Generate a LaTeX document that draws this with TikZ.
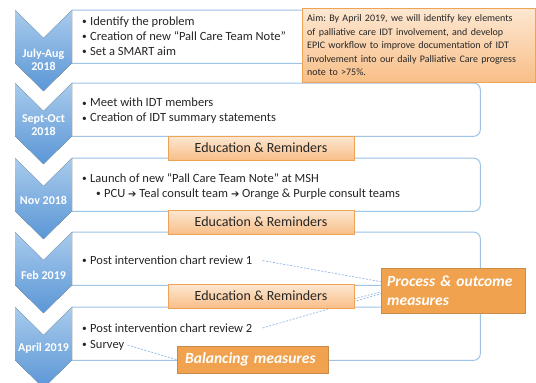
\documentclass[tikz,border=0pt]{standalone}
\usepackage{fontspec}
\setmainfont{Carlito}
\newfontfamily\arrowfont{DejaVu Sans}
\usetikzlibrary{backgrounds}

\definecolor{chevtop}{HTML}{A9CBEC}
\definecolor{chevbot}{HTML}{5A96D6}
\definecolor{boxline}{HTML}{9DC3E6}
\definecolor{edutop}{HTML}{FDE7D2}
\definecolor{edubot}{HTML}{F8BF88}
\definecolor{orangeline}{HTML}{EFA356}
\definecolor{measfill}{HTML}{F0A24E}
\definecolor{dotline}{HTML}{8FB6E2}
\definecolor{textgray}{HTML}{262626}

\frenchspacing
\newcommand{\bul}{\makebox[8pt][l]{\raisebox{0.8pt}{\scalebox{0.75}{\textbullet}}}}
\newcommand{\thenarrow}{{\arrowfont\fontsize{10}{12}\selectfont ➔}}

\tikzset{
  stagebox/.style={minimum width=408pt, minimum height=53pt, inner sep=0pt, anchor=north west},
  stageline/.style={draw=boxline, line width=1pt, rounded corners=7pt},
  chevron/.style={top color=chevtop, bottom color=chevbot, draw=none},
  datelbl/.style={text=white, font=\bfseries\fontsize{12}{13.5}\selectfont, align=center, inner sep=0pt},
  itemtxt/.style={anchor=west, align=left, text=textgray, font=\fontsize{12.5}{15}\selectfont, inner sep=0pt},
  edubox/.style={draw=orangeline, top color=edutop, bottom color=edubot, minimum width=186pt,
    minimum height=24pt, inner sep=0pt, text=textgray, font=\fontsize{14}{16}\selectfont},
  aimbox/.style={draw=orangeline, top color=edutop, bottom color=edubot, anchor=north west,
    text width=223pt, inner xsep=5pt, minimum height=74pt, align=left, text=textgray,
    font=\fontsize{10}{13.5}\selectfont},
  measbox/.style={draw=orangeline!85!black, fill=measfill, anchor=north west, align=left, text=white,
    font=\bfseries\itshape\fontsize{15.5}{19}\selectfont},
  dotted link/.style={draw=dotline, dash pattern=on 2pt off 1.5pt, line width=0.7pt}
}

\begin{document}
\begin{tikzpicture}[x=1pt, y=-1pt]
\useasboundingbox (0,0) rectangle (536,383);

\foreach \n/\t in {1/10, 2/83, 3/158, 4/232, 5/307} {
  \node[stagebox] (b\n) at (72,\t) {};
  \draw[stageline] (b\n.north west) -- (b\n.north east) -- (b\n.south east) -- (b\n.south west);
}

\foreach \t/\lbl/\ly [count=\n] in {10/{July-Aug\\2018}/60, 83/{Sept-Oct\\2018}/125,
    158/{Nov 2018}/200, 232/{Feb 2019}/275, 307/{April 2019}/348} {
  \fill[chevron] (15,\t) -- (43.5,\t+28) -- (72,\t) -- (72,\t+53) -- (43.5,\t+81) -- (15,\t+53) -- cycle;
  \node[datelbl] (d\n) at (43.5,\ly) {\lbl};
}

\node[itemtxt] (i1) at (82,36) {\bul Identify the problem\\\bul Creation of new “Pall Care Team Note”\\\bul Set a SMART aim};
\node[itemtxt] (i2) at (82,111) {\bul Meet with IDT members\\\bul Creation of IDT summary statements};
\node[itemtxt] (i3) at (82,186.5) {\bul Launch of new “Pall Care Team Note” at MSH\\
  \hspace{14pt}\bul PCU \thenarrow{} Teal consult team \thenarrow{} Orange \& Purple consult teams};
\node[itemtxt] (r1) at (82,260.5) {\bul Post intervention chart review 1};
\node[itemtxt] (r2) at (82,328) {\bul Post intervention chart review 2};
\node[itemtxt] (sv) at (82,345) {\bul Survey};

\node[edubox] (e1) at (261,148) {Education \& Reminders};
\node[edubox] (e2) at (261,222) {Education \& Reminders};
\node[edubox] (e3) at (261,296) {Education \& Reminders};

\node[aimbox] (aim) at (302,8) {Aim: By April 2019, we will identify key elements\\
  of palliative care IDT involvement, and develop\\
  EPIC workflow to improve documentation of IDT\\
  involvement into our daily Palliative Care progress\\
  note to >75\%.};

\node[measbox, text width=132pt, inner xsep=6pt, minimum height=45pt] (pom) at (381,268) {Process \& outcome\\measures};
\node[measbox, text width=135pt, inner xsep=8pt, minimum height=27pt, inner ysep=2pt] (bal) at (177,346) {Balancing measures};

\begin{scope}[on background layer]
\fill[white] (0,0) rectangle (536,383);
\draw[dotted link] ([xshift=10pt]r1.east) -- ([yshift=9pt]pom.west);
\draw[dotted link] ([yshift=-3pt]e3.east) -- ([yshift=-1pt]pom.west);
\draw[dotted link] ([xshift=10pt]r2.east) -- ([yshift=-3pt]pom.west);
\draw[dotted link] ([xshift=3pt]sv.east) -- (bal.west);
\end{scope}
\end{tikzpicture}
\end{document}
